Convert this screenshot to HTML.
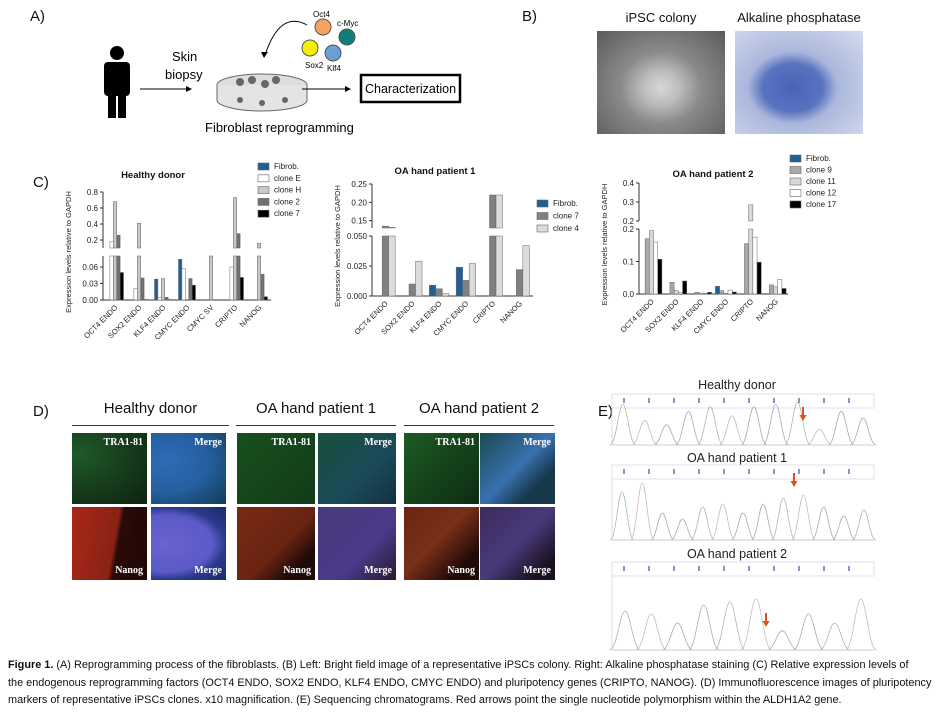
<!DOCTYPE html>
<html><head><meta charset="utf-8"><style>
body{margin:0;background:#fff;font-family:"Liberation Sans",sans-serif;}
#root{position:relative;width:944px;height:727px;overflow:hidden;background:#fff;}
.abs{position:absolute;}
.lbl{font-size:15px;color:#111;}
.img{position:absolute;}
.tag{position:absolute;font-family:"Liberation Serif",serif;font-size:10px;color:#fff;font-weight:bold;}
.ttl{position:absolute;font-size:15px;color:#111;text-align:center;}
</style></head><body>
<div id="root">
<!-- Panel A -->
<div class="abs lbl" style="left:30px;top:8px">A)</div>
<svg class="abs" style="left:0;top:0" width="590" height="150">
 <g fill="#000">
  <circle cx="117" cy="53" r="7"/>
  <rect x="104" y="62" width="26" height="34" rx="4"/>
  <rect x="108" y="92" width="8" height="26"/><rect x="118" y="92" width="8" height="26"/>
 </g>
 <text x="172" y="61" font-size="13" font-family="Liberation Sans">Skin</text>
 <text x="165" y="79" font-size="13" font-family="Liberation Sans">biopsy</text>
 <line x1="140" y1="89" x2="186" y2="89" stroke="#000"/><path d="M186,86 L192,89 L186,92Z"/>
 <ellipse cx="262" cy="85" rx="45" ry="11" fill="#ddd" stroke="#666"/>
 <path d="M217,85 L217,100 A45,11 0 0 0 307,100 L307,85" fill="#e4e4e4" stroke="#666"/>
 <g fill="#666"><circle cx="240" cy="82" r="4"/><circle cx="252" cy="80" r="4"/><circle cx="265" cy="84" r="4"/><circle cx="276" cy="80" r="4"/><circle cx="240" cy="100" r="3"/><circle cx="262" cy="103" r="3"/><circle cx="285" cy="100" r="3"/></g>
 <text x="205" y="132" font-size="13" font-family="Liberation Sans">Fibroblast reprogramming</text>
 <path d="M307,25 Q280,10 265,55" fill="none" stroke="#000"/><path d="M261,52 L264,58 L268,52Z"/>
 <circle cx="323" cy="27" r="8" fill="#f4a460" stroke="#555"/>
 <circle cx="347" cy="37" r="8" fill="#0f7f78" stroke="#555"/>
 <circle cx="310" cy="48" r="8" fill="#f5f000" stroke="#555"/>
 <circle cx="333" cy="53" r="8" fill="#6a9fd6" stroke="#555"/>
 <text x="313" y="17" font-size="8" font-family="Liberation Sans">Oct4</text>
 <text x="337" y="26" font-size="8" font-family="Liberation Sans">c-Myc</text>
 <text x="305" y="68" font-size="8" font-family="Liberation Sans">Sox2</text>
 <text x="327" y="71" font-size="8" font-family="Liberation Sans">Klf4</text>
 <line x1="302" y1="89" x2="345" y2="89" stroke="#000"/><path d="M345,86 L351,89 L345,92Z"/>
 <rect x="361" y="75" width="99" height="27" fill="#fff" stroke="#000" stroke-width="2.5"/>
 <text x="365" y="93" font-size="12.5" font-family="Liberation Sans">Characterization</text>
</svg>
<!-- Panel B -->
<div class="abs lbl" style="left:522px;top:8px">B)</div>
<div class="ttl" style="left:597px;top:10px;width:128px;font-size:13px">iPSC colony</div>
<div class="ttl" style="left:732px;top:10px;width:134px;font-size:13px">Alkaline phosphatase</div>
<div class="img" style="left:597px;top:31px;width:128px;height:103px;background:radial-gradient(ellipse at 50% 55%,#d8d8d8 0,#bdbdbd 20%,#8a8a8a 45%,#5a5a5a 100%)"></div>
<div class="img" style="left:735px;top:31px;width:128px;height:103px;background:radial-gradient(ellipse at 45% 55%,#4a62b4 0,#5a73c0 30%,#aab7dc 45%,#d6dcee 100%)"></div>
<!-- Panel C -->
<div class="abs lbl" style="left:33px;top:174px">C)</div>
<svg id="charts" class="abs" style="left:0;top:150px" width="944" height="240"></svg>
<!-- Panel D -->
<div class="abs lbl" style="left:33px;top:403px">D)</div>
<div class="ttl" style="left:72px;top:400px;width:157px">Healthy donor</div>
<div class="ttl" style="left:236px;top:400px;width:160px">OA hand patient 1</div>
<div class="ttl" style="left:404px;top:400px;width:150px">OA hand patient 2</div>
<div class="abs" style="left:72px;top:425px;width:157px;height:1px;background:#333"></div>
<div class="abs" style="left:236px;top:425px;width:160px;height:1px;background:#333"></div>
<div class="abs" style="left:404px;top:425px;width:150px;height:1px;background:#333"></div>
<div id="ifgrid"></div>
<!-- Panel E -->
<div class="abs lbl" style="left:598px;top:403px">E)</div>
<svg id="chroma" class="abs" style="left:600px;top:375px" width="280" height="285"></svg>
<!-- Caption -->
<div class="abs" style="left:8px;top:657px;width:936px;font-size:10.9px;line-height:17.5px;color:#111;white-space:nowrap"><b>Figure 1.</b> (A) Reprogramming process of the fibroblasts. (B) Left: Bright field image of a representative iPSCs colony. Right: Alkaline phosphatase staining (C) Relative expression levels of<br>the endogenous reprogramming factors (OCT4 ENDO, SOX2 ENDO, KLF4 ENDO, CMYC ENDO) and pluripotency genes (CRIPTO, NANOG). (D) Immunofluorescence images of pluripotency<br>markers of representative iPSCs clones. x10 magnification. (E) Sequencing chromatograms. Red arrows point the single nucleotide polymorphism within the ALDH1A2 gene.</div>
</div>
<script>
// ---- Chart data ----
const cats1 = ["OCT4 ENDO","SOX2 ENDO","KLF4 ENDO","CMYC ENDO","CMYC SV","CRIPTO","NANOG"];
const series1 = ["Fibrob.","clone E","clone  H","clone 2","clone 7"];
const fib1 = [0,0,0.038,0.074,0,0,0];
const cloneE1 = [0.18,0.021,0.005,0.057,0,0.06,0.001];
const cloneH1 = [0.68,0.41,0.039,0,0.1,0.73,0.16];
const clone2_1 = [0.26,0.04,0.005,0.039,0,0.28,0.047];
const clone7_1 = [0.05,0.001,0.001,0.027,0,0.041,0.006];
const lowTicks1 = ["0.00","0.03","0.06"];
const highTicks1 = ["0.2","0.4","0.6","0.8"];

const cats2 = ["OCT4 ENDO","SOX2 ENDO","KLF4 ENDO","CMYC ENDO","CRIPTO","NANOG"];
const series2 = ["Fibrob.","clone 7","clone 4"];
const fib2 = [0,0,0.009,0.024,0,0];
const clone7_2 = [0.135,0.010,0.006,0.013,0.22,0.022];
const clone4_2 = [0.132,0.029,0.002,0.027,0.22,0.042];
const lowTicks2 = ["0.000","0.025","0.050"];
const highTicks2 = ["0.15","0.20","0.25"];

const cats3 = ["OCT4 ENDO","SOX2 ENDO","KLF4 ENDO","CMYC ENDO","CRIPTO","NANOG"];
const series3 = ["Fibrob.","clone 9","clone 11","clone 12","clone 17"];
const fib3 = [0,0,0,0.024,0,0];
const clone9_3 = [0.17,0.036,0.005,0.01,0.155,0.028];
const clone11_3 = [0.195,0.01,0.003,0.002,0.285,0.022];
const clone12_3 = [0.16,0.004,0.002,0.012,0.175,0.045];
const clone17_3 = [0.107,0.04,0.005,0.006,0.098,0.017];
const lowTicks3 = ["0.0","0.1","0.2"];
const highTicks3 = ["0.2","0.3","0.4"];

const NS="http://www.w3.org/2000/svg";
const svg=document.getElementById('charts');
function mk(tag,attrs,parent){const e=document.createElementNS(NS,tag);for(const k in attrs)e.setAttribute(k,attrs[k]);(parent||svg).appendChild(e);return e;}
function drawChart(cfg){
  const g=mk('g',{});
  
  
  const low=v=>cfg.lowY0-(v/cfg.lowMax)*(cfg.lowY0-cfg.lowTop);
  const high=v=>cfg.highY0-((v-cfg.highMin)/(cfg.highMax-cfg.highMin))*(cfg.highY0-cfg.highTop);
  const n=cfg.cats.length, gw=(cfg.x1-cfg.x0)/n, bw=cfg.bw;
  mk('line',{x1:cfg.x0,y1:cfg.lowTop,x2:cfg.x0,y2:cfg.lowY0,stroke:'#333'},g);
  mk('line',{x1:cfg.x0,y1:cfg.highTop,x2:cfg.x0,y2:cfg.highY0,stroke:'#333'},g);
  mk('line',{x1:cfg.x0,y1:cfg.lowY0,x2:cfg.x1,y2:cfg.lowY0,stroke:'#333'},g);
  cfg.lowTicks.forEach(t=>{const y=low(parseFloat(t));mk('line',{x1:cfg.x0-3,y1:y,x2:cfg.x0,y2:y,stroke:'#333'},g);const tx=mk('text',{x:cfg.x0-5,y:y+3,'font-size':8,'text-anchor':'end',fill:'#222'},g);tx.textContent=t;});
  cfg.highTicks.forEach(t=>{const y=high(parseFloat(t));mk('line',{x1:cfg.x0-3,y1:y,x2:cfg.x0,y2:y,stroke:'#333'},g);const tx=mk('text',{x:cfg.x0-5,y:y+3,'font-size':8,'text-anchor':'end',fill:'#222'},g);tx.textContent=t;});
  cfg.data.forEach((arr,si)=>{
    arr.forEach((v,ci)=>{
      if(v<=0)return;
      const x=cfg.x0+gw*ci+(gw-bw*cfg.data.length)/2+si*bw;
      const st={fill:cfg.colors[si],stroke:'#666','stroke-width':0.5};
      let r;
      if(v<=cfg.lowMax){r=mk('rect',Object.assign({x:x,y:low(v),width:bw,height:cfg.lowY0-low(v)},st),g);}
      else{
        r=mk('rect',Object.assign({x:x,y:cfg.lowTop,width:bw,height:cfg.lowY0-cfg.lowTop},st),g);
        const hv=Math.max(v,cfg.highMin);
        const r2=mk('rect',Object.assign({x:x,y:high(hv),width:bw,height:cfg.highY0-high(hv)},st),g);
        
        
      }
      
      
    });
  });
  cfg.cats.forEach((c,ci)=>{const cx=cfg.x0+gw*(ci+0.5)+3;const t=mk('text',{x:cx,y:cfg.lowY0+8,'font-size':7.5,'text-anchor':'end',fill:'#222',transform:`rotate(-45 ${cx} ${cfg.lowY0+8})`},g);t.textContent=c;
    });
  const tt=mk('text',{x:cfg.titleX,y:cfg.titleY,'font-size':9.5,'font-weight':'bold','text-anchor':'middle',fill:'#111'},g);tt.textContent=cfg.title;
  
  const ym=(cfg.highTop+cfg.lowY0)/2+6;
  const yt=mk('text',{x:cfg.x0-32,y:ym,'font-size':7.5,'text-anchor':'middle',fill:'#222',transform:`rotate(-90 ${cfg.x0-32} ${ym})`},g);yt.textContent='Expression levels relative to GAPDH';
  
  cfg.series.forEach((s,si)=>{const y=cfg.legY+si*cfg.legDy;
    const lr=mk('rect',{x:cfg.legX,y:y-6,width:11,height:7,fill:cfg.colors[si],stroke:'#666','stroke-width':0.6},g);
    
    const lt=mk('text',{x:cfg.legX+16,y:y,'font-size':8,fill:'#222'},g);lt.textContent=s;
    });
}
drawChart({name:'chart-healthy-donor',title:'Healthy donor',titleX:153,titleY:28,cats:cats1,series:series1,
 data:[fib1,cloneE1,cloneH1,clone2_1,clone7_1],colors:['#1f5f96','#fff','#c8c8c8','#707070','#000'],
 x0:103,x1:271,bw:3.4,lowY0:150,lowTop:106,lowMax:0.08,highY0:98,highTop:42,highMin:0.1,highMax:0.8,
 lowTicks:lowTicks1,highTicks:highTicks1,legX:258,legY:19,legDy:11.8});
drawChart({name:'chart-oa-patient-1',title:'OA hand patient 1',titleX:435,titleY:24,cats:cats2,series:series2,
 data:[fib2,clone7_2,clone4_2],colors:['#1f5f96','#808080','#dcdcdc'],
 x0:372,x1:533,bw:6.5,lowY0:146,lowTop:86,lowMax:0.05,highY0:78,highTop:34,highMin:0.13,highMax:0.25,
 lowTicks:lowTicks2,highTicks:highTicks2,legX:537,legY:56,legDy:12.5});
drawChart({name:'chart-oa-patient-2',title:'OA hand patient 2',titleX:713,titleY:27,cats:cats3,series:series3,
 data:[fib3,clone9_3,clone11_3,clone12_3,clone17_3],colors:['#1f5f96','#a8a8a8','#d8d8d8','#fff','#000'],
 x0:639,x1:788,bw:4.2,lowY0:144,lowTop:79,lowMax:0.2,highY0:71,highTop:33,highMin:0.2,highMax:0.4,
 lowTicks:lowTicks3,highTicks:highTicks3,legX:790,legY:11,legDy:11.5});

// ---- IF images ----
const ifg=document.getElementById('ifgrid');
const cols=[[72,151],[237,318],[404,480]];
const styles=[
 ['radial-gradient(ellipse at 10% 30%,#1e5a2a 0,#173d1c 50%,#0d2210 100%)','radial-gradient(ellipse at 20% 40%,#2f6bb5 0,#2560a0 50%,#133a55 100%)','linear-gradient(100deg,#a8281a 0,#8a2214 55%,#2a0a08 60%,#200806 100%)','radial-gradient(ellipse at 20% 50%,#6a62d0 0,#5a5ac8 55%,#2a3a8a 70%,#1a2a6a 100%)'],
 ['linear-gradient(135deg,#18501f,#123b18)','linear-gradient(135deg,#18503a,#1a4a5a 60%,#123040)','linear-gradient(135deg,#7a2a14 0,#6a2412 55%,#200a08 80%)','linear-gradient(135deg,#4a3a7a 0,#4a3a8a 60%,#2a1830 100%)'],
 ['linear-gradient(135deg,#1c5a24 0,#143f1a 60%,#0f2a12)','linear-gradient(135deg,#1a4a50 0,#3a70b0 50%,#16384a 75%)','linear-gradient(135deg,#6a2412 0,#7a3018 45%,#200a08 80%)','linear-gradient(135deg,#3a2a5a 0,#4a3a7a 50%,#1a1020 85%)']];
const tagTxt=['TRA1-81','Merge','Nanog','Merge'];
cols.forEach((c,ci)=>{
 [[c[0],433],[c[1],433],[c[0],507],[c[1],507]].forEach((p,k)=>{
  const w=(ci===0?75:(ci===1?78:75));
  const d=document.createElement('div');d.className='img';
  d.style.cssText=`left:${p[0]}px;top:${p[1]}px;width:${w}px;height:${k<2?71:73}px;background:${styles[ci][k]}`;
  
  
  const t=document.createElement('div');t.className='tag';t.textContent=tagTxt[k];
  t.style.cssText=k<2?'right:4px;top:4px':'right:4px;bottom:4px';
  d.appendChild(t);ifg.appendChild(d);
 });
});

// ---- chromatograms ----
const cs=document.getElementById('chroma');
function cmk(tag,a){const e=document.createElementNS(NS,tag);for(const k in a)e.setAttribute(k,a[k]);cs.appendChild(e);return e;}
const chromTitles=["Healthy donor","OA hand patient 1","OA hand patient 2"];
const peaks1=[0.9,0.55,0.45,0.75,0.85,0.65,0.85,0.9,0.95,0.35,0.75,0.6];
const peaks2=[0.8,0.95,0.45,0.35,0.55,0.6,0.45,0.6,0.7,0.75,0.55,0.4,0.5];
const peaks3=[0.65,0.6,0.45,0.75,0.8,0.85,0.32,0.6,0.45,0.85];
const secs=[{ty:14,hy:19,base:70,h:45,pk:peaks1,ax:203,ay:32},{ty:87,hy:90,base:165,h:60,pk:peaks2,ax:194,ay:98},{ty:183,hy:187,base:275,h:60,pk:peaks3,ax:166,ay:238}];
secs.forEach((s,i)=>{
 const t=cmk('text',{x:137,y:s.ty,'font-size':12.5,'text-anchor':'middle',fill:'#222','font-family':'Liberation Sans'});t.textContent=chromTitles[i];
 
 cmk('rect',{x:12,y:s.hy,width:262,height:14,fill:'#fff',stroke:'#ccd','stroke-width':0.6});
 for(let k=0;k<10;k++)cmk('line',{x1:24+k*25,y1:s.hy+4,x2:24+k*25,y2:s.hy+9,stroke:'#3a4aa0','stroke-width':1.2});
 cmk('line',{x1:12,y1:s.hy+14,x2:12,y2:s.base,stroke:'#ddd'});
 const n=s.pk.length,sp=262/n;
 s.pk.forEach((v,k)=>{const cx=12+sp*(k+0.5),w=sp*0.6;
  cmk('path',{d:`M${cx-w},${s.base} C${cx-w/2},${s.base} ${cx-w/3},${s.base-v*s.h} ${cx},${s.base-v*s.h} C${cx+w/3},${s.base-v*s.h} ${cx+w/2},${s.base} ${cx+w},${s.base}`,fill:'none',stroke:['#aba','#cbb','#aaa','#aab'][k%4],'stroke-width':0.8});});
 cmk('line',{x1:12,y1:s.base,x2:274,y2:s.base,stroke:'#ccc'});
 const a=cmk('path',{d:`M${s.ax},${s.ay} L${s.ax},${s.ay+9}`,stroke:'#e0501a','stroke-width':2});
 cmk('path',{d:`M${s.ax-3.5},${s.ay+8} L${s.ax},${s.ay+14} L${s.ax+3.5},${s.ay+8}Z`,fill:'#e0501a'});
 
});
</script>
</body></html>
